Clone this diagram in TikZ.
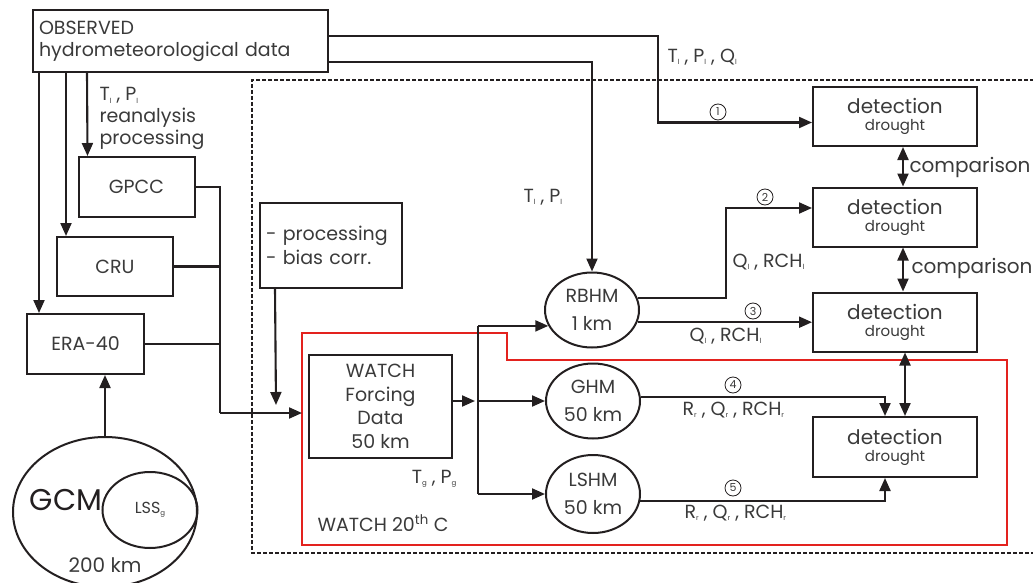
\documentclass[tikz,border=0pt]{standalone}
\usepackage{fontspec}
\setmainfont{Poppins}
\usetikzlibrary{positioning, calc, arrows.meta, shapes.geometric}
\definecolor{ink}{HTML}{231F20}
\definecolor{txt}{HTML}{3A3A3A}
\definecolor{frame}{HTML}{E3221E}
\newcommand{\lsub}[1]{\raisebox{-2.5pt}{\fontsize{7}{7}\selectfont #1}}

\begin{document}
\begin{tikzpicture}[x=1pt,y=-1pt]
	 \tikzstyle{every node}=[text=txt, font=\fontsize{19}{22}\selectfont]
	 \tikzstyle{block}=[rectangle, draw=ink, line width=2pt, inner sep=0pt, align=center]
	 \tikzstyle{model}=[ellipse, draw=ink, line width=2pt, inner sep=0pt, align=center, font=\fontsize{19}{28}\selectfont]
	 \tikzstyle{edge}=[draw, line width=2.1pt, ink]
	 \tikzstyle{arrow}=[edge, -{Triangle[length=13pt,width=11pt]}]
	 \tikzstyle{twoway}=[edge, {Triangle[length=13pt,width=11pt]}-{Triangle[length=13pt,width=11pt]}]
	 \tikzstyle{num}=[circle, draw=ink, line width=0.8pt, inner sep=1pt, minimum size=16pt, font=\fontsize{11}{11}\selectfont]
	 \tikzstyle{detbox}=[block, minimum width=164pt, minimum height=59pt, font=\fontsize{20}{20}\selectfont]
	 \useasboundingbox (0,0) rectangle (1033,583);
	 % frames
	 \draw[ink, line width=1.6pt, dash pattern=on 4pt off 2pt] (1040,80) -- (252,80) -- (252,553) -- (1040,553);
	 \draw[frame, line width=1.5pt] (302,333) -- (507,333) -- (507,360) -- (1007,360) -- (1007,545) -- (302,545) -- cycle;
	 % boxes
	 \node[block, minimum width=295pt, minimum height=62pt, text width=283pt, align=left] (obs) at (180.5,41) {OBSERVED\\hydrometeorological data};
	 \node[block, minimum width=116pt, minimum height=60pt] (gpcc) at (136.5,187) {GPCC};
	 \node[block, minimum width=116pt, minimum height=59pt] (cru) at (115,266.5) {CRU};
	 \node[block, minimum width=117pt, minimum height=60pt] (era) at (85.5,344) {ERA-40};
	 \node[block, minimum width=142pt, minimum height=85pt, text width=130pt, align=left, font=\fontsize{19}{24}\selectfont] (proc) at (331,245.5) {- processing\\- bias corr.};
	 \node[block, minimum width=143pt, minimum height=103pt, font=\fontsize{19}{23.5}\selectfont] (watch) at (380.5,406.5) {WATCH\\Forcing\\Data\\50 km};
	 \node[detbox] (det1) at (895,116.5) {detection\\[-3pt]{\fontsize{15}{16}\selectfont drought}};
	 \node[detbox] (det2) at (895,217) {detection\\[-3pt]{\fontsize{15}{16}\selectfont drought}};
	 \node[detbox] (det3) at (895,322) {detection\\[-3pt]{\fontsize{15}{16}\selectfont drought}};
	 \node[detbox, minimum height=60pt] (det4) at (895,447) {detection\\[-3pt]{\fontsize{15}{16}\selectfont drought}};
	 % models
	 \node[model, minimum width=94pt, minimum height=75pt] (rbhm) at (592,310) {RBHM\\1 km};
	 \node[model, minimum width=94pt, minimum height=75pt] (ghm) at (593,401) {GHM\\50 km};
	 \node[model, minimum width=94pt, minimum height=78pt] (lshm) at (593,494) {LSHM\\50 km};
	 \node[model, minimum width=184pt, minimum height=150pt] (gcm) at (105,512) {};
	 \node[model, minimum width=95pt, minimum height=76pt, font=\fontsize{16}{18}\selectfont] (lss) at (150,510) {LSS\lsub{g}};
	 \node[font=\fontsize{30}{32}\selectfont, text=ink] (gcmlabel) at (66,500) {GCM};
	 \node[font=\fontsize{20}{22}\selectfont] (gcmres) at (105,565) {200 km};
	 % labels
	 \node[anchor=north west, align=left, font=\fontsize{19}{22}\selectfont] (rean) at (96,84) {T\lsub{l} , P\lsub{l}\\reanalysis\\processing};
	 \node[anchor=west] (tpq) at (664,57) {T\lsub{l} , P\lsub{l} , Q\lsub{l}};
	 \node[anchor=west] (tp) at (520,197) {T\lsub{l} , P\lsub{l}};
	 \node[anchor=west] (q2) at (729,262) {Q\lsub{l} , RCH\lsub{l}};
	 \node[anchor=west] (q3) at (686,336) {Q\lsub{l} , RCH\lsub{l}};
	 \node[anchor=west] (r4) at (679,410) {R\lsub{r} , Q\lsub{r} , RCH\lsub{r}};
	 \node[anchor=west] (r5) at (681,513) {R\lsub{r} , Q\lsub{r} , RCH\lsub{r}};
	 \node[anchor=east] (tg) at (460,479) {T\lsub{g} , P\lsub{g}};
	 \node[anchor=west] (w20) at (314,523) {WATCH 20\textsuperscript{th} C};
	 \node[anchor=west, font=\fontsize{20}{22}\selectfont] (cmp1) at (906,167) {comparison};
	 \node[anchor=west, font=\fontsize{20}{22}\selectfont] (cmp2) at (908,268) {comparison};
	 \node[num] (n1) at (718,112) {1};
	 \node[num] (n2) at (765,197) {2};
	 \node[num] (n3) at (753,311) {3};
	 \node[num] (n4) at (733,385) {4};
	 \node[num] (n5) at (733,488) {5};
	 % observed data links
	 \draw[arrow] ([xshift=55pt]obs.south west) -- ([xshift=10pt]gpcc.north west);
	 \draw[arrow] ([xshift=34pt]obs.south west) -- ([xshift=10pt]cru.north west);
	 \draw[arrow] ([xshift=7pt]obs.south west) -- ([xshift=13pt]era.north west);
	 \draw[arrow] ([yshift=5pt]obs.east) -| ([xshift=-154pt,yshift=-6pt]det1.west) -- ([yshift=-6pt]det1.west);
	 \draw[arrow] ([yshift=-21pt]obs.east) -| (rbhm.north);
	 \draw[arrow] (gcm.north) -- (gcm.north |- era.south);
	 % reanalysis to forcing
	 \coordinate (jn) at (220,413);
	 \coordinate (pe) at (276,405);
	 \draw[edge] (gpcc.east) -| (jn);
	 \draw[edge] (cru.east) -| (jn);
	 \draw[edge] (era.east) -| (jn);
	 \draw[arrow] (jn) -- (302,413);
	 \draw[arrow] ([xshift=16pt]proc.south west) -- (pe);
	 % forcing to models
	 \coordinate (sp) at (478,401);
	 \draw[arrow] (watch.east |- sp) -- ([xshift=-3pt]sp);
	 \draw[edge] (sp |- rbhm.200) -- (sp |- lshm.west);
	 \draw[arrow] (sp |- rbhm.200) -- (rbhm.200);
	 \draw[arrow] (sp) -- (ghm.west);
	 \draw[arrow] (sp |- lshm.west) -- (lshm.west);
	 % models to detection
	 \draw[arrow] (rbhm.15) -| ([xshift=-86pt,yshift=9pt]det2.west) -- ([yshift=9pt]det2.west);
	 \draw[arrow] (rbhm.-15) -- (rbhm.-15 -| det3.west);
	 \draw[arrow] (ghm.5) -| ([xshift=-10pt]det4.north);
	 \draw[arrow] (lshm.-8) -| ([xshift=-10pt]det4.south);
	 \draw[twoway] ([xshift=8pt]det1.south) -- ([xshift=8pt]det2.north);
	 \draw[twoway] ([xshift=8pt]det2.south) -- ([xshift=8pt]det3.north);
	 \draw[twoway] ([xshift=10pt]det3.south) -- ([xshift=10pt]det4.north);
\end{tikzpicture}
\end{document}
